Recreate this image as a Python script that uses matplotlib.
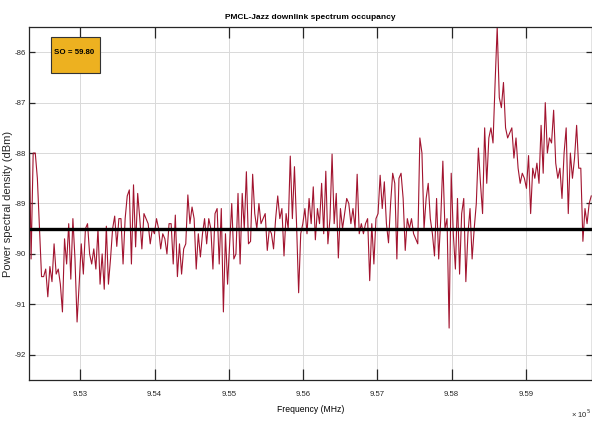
import numpy as np
import matplotlib
matplotlib.use('Agg')
import matplotlib.pyplot as plt
from matplotlib.patches import Rectangle

plt.rcParams['font.family'] = ['Liberation Sans', 'DejaVu Sans']

# Spectrum readings (dBm), left to right
psd_dbm = [
    # ~9.523 - 9.533
    -87.3, -90.1, -88.0, -88.0, -88.5, -89.5, -90.45, -90.45, -90.3, -90.85, -90.25, -90.55,
    -89.8, -90.4, -90.3, -90.6, -91.15, -89.7, -90.2, -89.4, -90.5, -89.3, -90.1, -91.35,
    -90.6, -89.8, -90.4, -89.5, -89.4, -90.0, -90.2, -89.9, -90.3, -89.5, -90.6, -90.0,
    # ~9.533 - 9.542
    -90.7, -89.45, -90.6, -90.1, -89.5, -89.25, -89.85, -89.3, -89.3, -90.2, -89.3, -88.85,
    -88.73, -90.2, -88.63, -89.86, -88.8, -89.3, -89.9, -89.2, -89.3, -89.4, -89.8, -89.5,
    -89.6, -89.3, -89.5, -89.9, -89.6, -89.7, -90.0, -89.4,
    # ~9.542 - 9.552
    -89.4, -90.2, -89.23, -90.45, -89.8, -90.4, -89.9, -89.8, -88.83, -89.4, -89.07, -89.3,
    -90.3, -89.6, -90.06, -89.6, -89.3, -89.8, -89.3, -89.5, -90.3,
    -89.2, -89.1, -90.2, -89.1, -91.15, -89.6, -90.6, -89.8, -89.0, -90.1, -90.0, -88.8,
    # ~9.552 - 9.561
    -90.2, -88.8, -89.5, -88.37, -89.8, -89.75, -88.42, -89.2, -89.5, -89.0, -89.4, -89.3,
    -89.2, -89.93, -89.5, -89.6, -89.9, -89.3, -88.85, -89.3, -89.1, -90.04, -89.2, -89.5,
    -88.06, -89.3, -88.27, -89.4, -90.77, -89.6, -89.4, -89.1, -89.6, -88.9,
    # ~9.561 - 9.571
    -89.4, -88.67, -89.72, -89.1, -89.4, -88.6, -89.6, -88.36, -89.8, -89.3, -88.02, -89.4,
    -88.8, -90.08, -89.1, -89.5, -89.2, -88.9, -89.0, -89.4, -89.1, -89.5, -88.42,
    -89.6, -89.4, -89.6, -89.4, -89.3, -90.53, -89.4, -90.2, -89.3, -89.2, -88.44, -89.1,
    # ~9.571 - 9.580
    -88.57, -89.4, -89.78, -89.0, -88.4, -88.6, -90.1, -88.5, -88.4, -88.9, -89.93, -89.3,
    -89.5, -89.3, -89.6, -89.7, -89.8, -87.7, -88.0, -89.5, -88.9, -88.6, -89.3,
    -89.6, -90.04, -88.9, -90.1, -89.3, -88.16, -89.5, -89.3, -91.47,
    # ~9.580 - 9.599
    -88.4, -89.6, -90.3, -88.9, -90.4, -89.2, -88.9, -90.55, -89.6, -89.1, -90.1, -89.5,
    -89.0, -87.9, -88.6, -89.2, -87.5, -88.6, -87.7, -87.5, -87.8, -86.6, -85.5, -86.9,
    -87.1, -86.6, -87.5, -87.7, -87.6, -87.5, -88.1, -87.7, -88.3, -88.6, -88.4, -88.5,
    -88.7, -88.05, -89.2, -88.3, -88.5, -88.2, -88.6, -87.45, -88.4, -87.0, -88.0, -87.7,
    -87.8, -87.15, -88.2, -88.5, -88.3, -88.9, -88.0, -87.5, -89.2, -88.0, -88.5, -88.1,
    -87.45, -88.3, -88.3, -89.75, -89.1, -89.4, -89.0, -88.85,
]
freq_start_mhz = 952310
freq_stop_mhz = 959880
threshold_dbm = -89.5
so_value = 59.80

freq_mhz = np.linspace(freq_start_mhz, freq_stop_mhz, len(psd_dbm))

fig = plt.figure(figsize=(5.92, 4.23), dpi=100)
ax = fig.add_axes([29 / 592, 1 - 380 / 423, 1 - 29 / 592, (380 - 27) / 423])

ax.plot(freq_mhz / 1e5, psd_dbm, color='#A2142F', lw=0.8)
ax.axhline(threshold_dbm, color='black', lw=2.4)

ax.set_xlim(9.5231, 9.5989)
ax.set_ylim(-92.5, -85.5)
ax.set_xticks([9.53, 9.54, 9.55, 9.56, 9.57, 9.58, 9.59])
ax.set_xticklabels(['9.53', '9.54', '9.55', '9.56', '9.57', '9.58', '9.59'])
ax.set_yticks([-92, -91, -90, -89, -88, -87, -86])
ax.set_yticklabels(['-92', '-91', '-90', '-89', '-88', '-87', '-86'])
ax.grid(True, color='#d9d9d9', lw=0.7)
ax.set_axisbelow(True)
ax.tick_params(axis='x', direction='in', length=8, width=0.9, top=True, labelsize=5.6, pad=8, colors='#262626')
ax.tick_params(axis='y', direction='in', length=4.5, width=0.9, right=True, labelsize=5.6, pad=2, colors='#262626')
for s in ax.spines.values():
    s.set_color('#262626')
    s.set_linewidth(0.9)

ax.set_title('PMCL-Jazz downlink spectrum occupancy', fontsize=6.0, fontweight='bold', pad=6)
ax.set_xlabel('Frequency (MHz)', fontsize=6.2, labelpad=5)
ax.set_ylabel('Power spectral density (dBm)', fontsize=8.0, color='#262626')
ax.yaxis.set_label_coords(-0.028, 0.5)
fig.text(591 / 592, 1 - 414 / 423, '× 10$^5$', fontsize=5.5, color='#262626', va='center', ha='right')

# annotation box
fig.patches.append(Rectangle((51 / 592, 1 - 73 / 423), 49 / 592, 36 / 423,
                             transform=fig.transFigure, facecolor='#EDB120',
                             edgecolor='#333333', lw=0.8))
fig.text(53.5 / 592, 1 - 53 / 423, 'SO = %.2f' % so_value, fontsize=5.7, fontweight='bold',
         va='center', ha='left')

fig.savefig('out.png', dpi=100)
